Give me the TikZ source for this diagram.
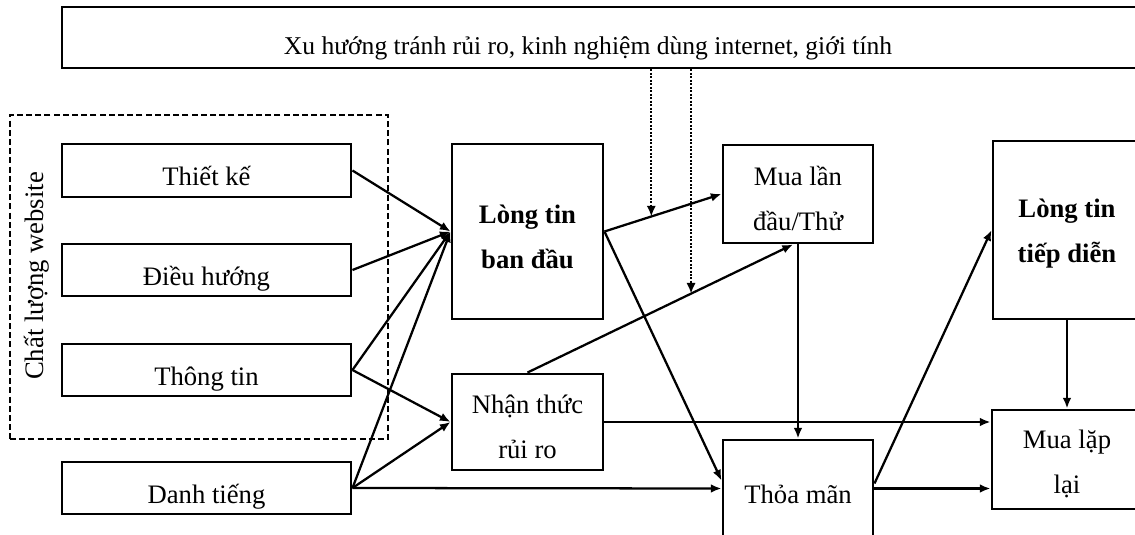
\documentclass[tikz,border=0pt]{standalone}
\usepackage{fontspec}
\setmainfont{Liberation Serif}
\usetikzlibrary{arrows.meta,calc}
\tikzset{
  txt/.style={font=\fontsize{20pt}{33.4pt}\selectfont},
  btxt/.style={font=\fontsize{20pt}{33.4pt}\selectfont\bfseries},
  box/.style 2 args={draw, line width=2.2pt, rectangle, inner sep=0pt, txt,
    minimum width=0.75*#1pt, minimum height=0.75*#2pt},
  one/.style={text height=22.5pt, text depth=0pt},
  two/.style={align=center, text height=#1, text depth=0pt},
  link/.style={line width=1.7pt, -{Latex[length=8pt,width=6.5pt]}},
  dotlink/.style={line width=1.7pt, dash pattern=on 1.5pt off 1.1pt,
    -{Latex[length=8pt,width=7pt]}},
  groupbox/.style={draw, line width=1.7pt, dash pattern=on 4.5pt off 2.4pt,
    rectangle, inner sep=0pt, minimum width=0.75*378pt, minimum height=0.75*324pt}
}
\begin{document}
\begin{tikzpicture}[x=0.75pt,y=-0.75pt]
\useasboundingbox (0,0) rectangle (1135,535);
\clip (0,0) rectangle (1135,535);

% moderating factors along the top
\node[box={1088}{61}] (top) at (606,37.5) {};
\node[font=\fontsize{19.2pt}{24pt}\selectfont, anchor=base, inner sep=0pt] (toptext) at (588,55)
  {Xu hướng tránh rủi ro, kinh nghiệm dùng internet, giới tính};

% website quality group
\node[groupbox] (grp) at (199,277) {};
\node[txt, rotate=90, inner sep=0pt] (grplabel) at (37,276) {Chất lượng website};

\node[box={289}{53}, one] (tk) at (206.5,170.5) {Thiết kế};
\node[box={289}{52}, one] (dh) at (206.5,270) {Điều hướng};
\node[box={289}{52}, one] (tt) at (206.5,370) {Thông tin};
\node[box={289}{52}, one] (dt) at (206.5,488) {Danh tiếng};

% middle column
\node[box={151}{175}, two=54.75pt, btxt] (lt1) at (527.5,231.5) {Lòng tin\\ban đầu};
\node[box={151}{96}, two=54pt] (nt) at (527.5,422) {Nhận thức\\rủi ro};

\node[box={150}{98}, two=54pt] (mua) at (798,194) {Mua lần\\đầu/Thử};
\node[box={150}{97}, one] (tm) at (798,488.5) {Thỏa mãn};

% right column
\node[box={148}{178}, two=48pt, btxt] (ltd) at (1067,230) {Lòng tin\\tiếp diễn};
\node[box={150}{99}, two=50.25pt] (ml) at (1067,459.5) {Mua lặp\\lại};

% paths into initial trust and perceived risk
\draw[link] (tk.east) -- (lt1.west);
\draw[link] (dh.east) -- (lt1.west);
\draw[link] (tt.east) -- (lt1.west);
\draw[link] (tt.east) -- (nt.west);
\draw[link] (dt.east) -- (lt1.west);
\draw[link] (dt.east) -- (nt.west);
\draw[link] (dt.east) -- (tm.west);

% paths to first purchase and satisfaction
\draw[link] (lt1.east) -- coordinate[pos=0.4] (m1) (mua.west);
\draw[link] (lt1.east) -- ($(tm.west)+(0,-8)$);
\draw[link] (nt.north) -- coordinate[pos=0.616] (m2) ($(mua.south)+(-5,0)$);
\draw[link] (mua.south) -- (tm.north);
\draw[link] (nt.east) -- (nt.east -| ml.west);

% paths to continued trust and repurchase
\draw[link] (tm.east) -- (tm.east -| ml.west);
\draw[link] ($(tm.east)+(0,-5)$) -- (ltd.west);
\draw[link] (ltd.south) -- (ml.north);

% moderating effects
\draw[dotlink] (top.south -| m1) -- (m1);
\draw[dotlink] (top.south -| m2) -- (m2);
\end{tikzpicture}
\end{document}
